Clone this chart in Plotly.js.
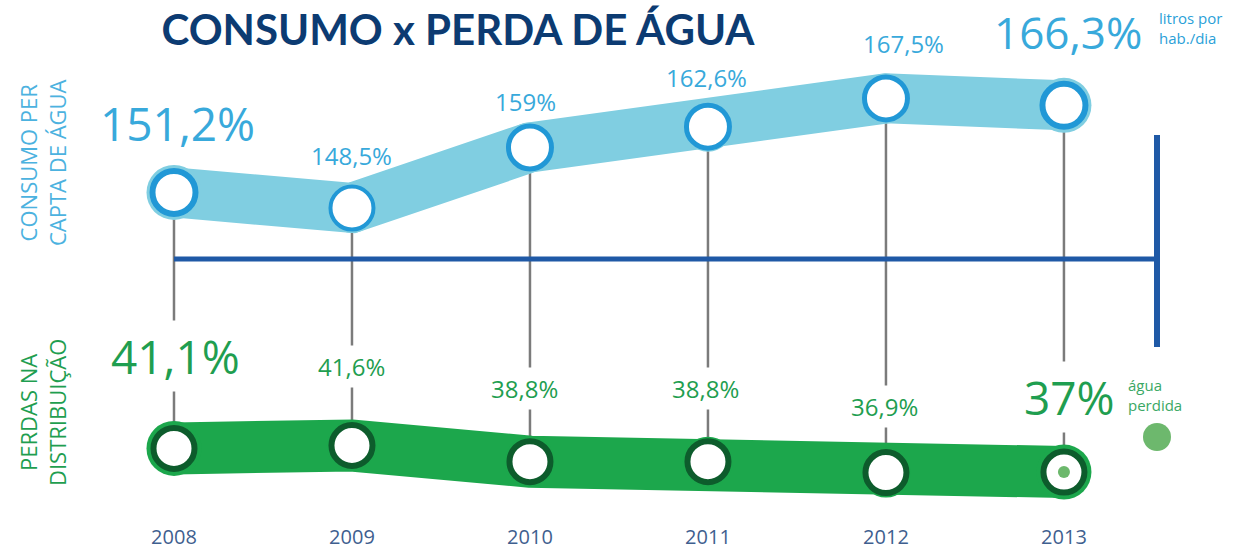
<!DOCTYPE html>
<html>
<head>
<meta charset="utf-8">
<script src="https://cdn.plot.ly/plotly-3.0.1.min.js"></script>
<style>html,body{margin:0;padding:0;background:#fff;}#chart{width:1235px;height:549px;}</style>
</head>
<body>
<div id="chart"></div>
<script>
// ---- data ----
const years = [2008, 2009, 2010, 2011, 2012, 2013];
const consumo = [151.2, 148.5, 159.0, 162.6, 167.5, 166.3];
const perdas = [41.1, 41.6, 38.8, 38.8, 36.9, 37.0];
const consumoLabels = ['151,2%', '148,5%', '159%', '162,6%', '167,5%', '166,3%'];
const perdasLabels = ['41,1%', '41,6%', '38,8%', '38,8%', '36,9%', '37%'];
const yearLabels = ['2008', '2009', '2010', '2011', '2012', '2013'];
const titleText = 'CONSUMO x PERDA DE ÁGUA';
const consumoName = 'CONSUMO PER<br>CAPTA DE ÁGUA';
const perdasName = 'PERDAS NA<br>DISTRIBUIÇÃO';
const consumoUnit = 'litros por<br>hab./dia';
const perdasUnit = 'água<br>perdida';

// ---- layout / style constants ----
const W = 1235, HT = 549, B = 26;
const H = HT - B;              // plot area height
const K = 5.77;                // px per unit, both value axes
const UP_TOP = 184.55;         // upper axis value at top of plot area
const LO_TOP = 118.81;         // lower axis value at top of plot area
const X0 = 2007.0225, X1 = 2013.961;
const yUp = px => UP_TOP - px / K;
const yLo = px => LO_TOP - px / K;
const xPx = px => X0 + (X1 - X0) * px / W;
const py = px => 1 - px / H;   // pixel row -> paper fraction

const consYShift = [69, 53, 46, 49, 55, 73];
const consXShift = [4, 0, -4, -1, 18, 4];
const consFont = [46, 24, 24, 24, 24, 44];
const perdYShift = [92, 79, 73, 73, 66, 75];
const perdXShift = [2, 0, -5, -2, -1, 6];
const perdFont = [46, 24, 24, 24, 24, 46];
const capSize = [55, 50, 50, 50, 50, 55];

const FONT = 'Open Sans, Noto Sans, sans-serif';
const C_BLUE_TXT = '#38a9db', C_BAND_UP = '#80cee1', C_RING_UP = '#2198d6';
const C_GREEN_TXT = '#1f9e50', C_BAND_LO = '#1ca74c', C_RING_LO = '#0d5c2c';
const C_NAVY = '#1f59a6', C_GRAY = '#7b7b7b';

// gray connectors
const gx = [], gyU = [], gyL = [];
years.forEach((y, i) => { gx.push(y, y, null); gyU.push(consumo[i], yUp(259), null); gyL.push(perdas[i], yLo(259), null); });

const traces = [
  {x: gx, y: gyU, yaxis: 'y', mode: 'lines', line: {color: C_GRAY, width: 2.5}, hoverinfo: 'skip'},
  {x: gx, y: gyL, yaxis: 'y2', mode: 'lines', line: {color: C_GRAY, width: 2.5}, hoverinfo: 'skip'},
  {x: years, y: consumo, yaxis: 'y', mode: 'lines', line: {color: C_BAND_UP, width: 50}, hoverinfo: 'skip'},
  {x: years, y: consumo, yaxis: 'y', mode: 'markers', opacity: 1,
   marker: {color: C_BAND_UP, size: capSize, opacity: 1, line: {width: 0}}, hoverinfo: 'skip'},
  {x: years, y: perdas, yaxis: 'y2', mode: 'lines', line: {color: C_BAND_LO, width: 52}, hoverinfo: 'skip'},
  {x: years, y: perdas, yaxis: 'y2', mode: 'markers', opacity: 1,
   marker: {color: C_BAND_LO, size: capSize, opacity: 1, line: {width: 0}}, hoverinfo: 'skip'},
  {x: years, y: consumo, yaxis: 'y', mode: 'markers',
   marker: {color: '#ffffff', size: 43, opacity: 1, line: {color: C_RING_UP, width: [6, 4, 5, 5, 5, 6]}}, name: 'Consumo'},
  {x: years, y: perdas, yaxis: 'y2', mode: 'markers',
   marker: {color: '#ffffff', size: 41, opacity: 1, line: {color: C_RING_LO, width: 6}}, name: 'Perdas'},
  {x: [years[5]], y: [perdas[5]], yaxis: 'y2', mode: 'markers',
   marker: {color: '#6cb86c', size: 12, opacity: 1}, hoverinfo: 'skip'}
];

const ann = [];
years.forEach((y, i) => {
  ann.push({x: y, y: consumo[i], xref: 'x', yref: 'y', text: consumoLabels[i], showarrow: false,
    xanchor: 'center', yanchor: 'middle',
    yshift: consYShift[i], xshift: consXShift[i], font: {family: FONT, size: consFont[i], color: C_BLUE_TXT}});
  ann.push({x: y, y: perdas[i], xref: 'x', yref: 'y2', text: perdasLabels[i], showarrow: false,
    xanchor: 'center', yanchor: 'middle',
    yshift: perdYShift[i], xshift: perdXShift[i], bgcolor: '#ffffff', borderpad: 4,
    font: {family: FONT, size: perdFont[i], color: C_GREEN_TXT}});
});
ann.push({x: 42 / W, y: py(163), xref: 'paper', yref: 'paper', xanchor: 'center', yanchor: 'middle',
  text: consumoName, textangle: -90, showarrow: false,
  align: 'center', font: {family: FONT, size: 22, color: '#4cb2df'}});
ann.push({x: 42 / W, y: py(413), xref: 'paper', yref: 'paper', xanchor: 'center', yanchor: 'middle',
  text: perdasName, textangle: -90, showarrow: false,
  align: 'center', font: {family: FONT, size: 22, color: C_GREEN_TXT}});
ann.push({x: 1157 / W, y: py(28), xref: 'paper', yref: 'paper', xanchor: 'left', yanchor: 'middle',
  text: consumoUnit, showarrow: false,
  align: 'left', font: {family: FONT, size: 15, color: '#2a9fd8'}});
ann.push({x: 1126 / W, y: py(395), xref: 'paper', yref: 'paper', xanchor: 'left', yanchor: 'middle',
  text: perdasUnit, showarrow: false,
  align: 'left', font: {family: FONT, size: 15, color: '#3aa864'}});

const shapes = [
  {type: 'line', xref: 'x', yref: 'y', x0: years[0], x1: xPx(1157), y0: yUp(259), y1: yUp(259), line: {color: C_NAVY, width: 5}},
  {type: 'line', xref: 'x', yref: 'y', x0: xPx(1157), x1: xPx(1157), y0: yUp(135), y1: yUp(347), line: {color: C_NAVY, width: 6}},
  {type: 'circle', xref: 'paper', yref: 'paper', x0: (1157 - 14) / W, x1: (1157 + 14) / W,
   y0: py(437 + 14), y1: py(437 - 14), fillcolor: '#6db86d', line: {width: 0}}
];

const layout = {
  width: W, height: HT,
  margin: {l: 0, r: 0, t: 0, b: B},
  paper_bgcolor: '#ffffff', plot_bgcolor: '#ffffff',
  showlegend: false,
  title: {text: '<b>' + titleText + '</b>', x: 458 / W, xref: 'container', xanchor: 'center',
    y: 1 - 30 / HT, yref: 'container', yanchor: 'middle',
    font: {family: 'Lato, Open Sans, sans-serif', size: 42, color: '#0c3b72'}},
  xaxis: {range: [X0, X1], tickvals: years, ticktext: yearLabels, showgrid: false, zeroline: false,
    showline: false, ticks: '', tickfont: {family: FONT, size: 20, color: '#3f5f8f'}, fixedrange: true},
  yaxis: {range: [UP_TOP - H / K, UP_TOP], visible: false, fixedrange: true},
  yaxis2: {range: [LO_TOP - H / K, LO_TOP], overlaying: 'y', visible: false, fixedrange: true},
  annotations: ann,
  shapes: shapes
};

Plotly.newPlot('chart', traces, layout, {staticPlot: true});
</script>
</body>
</html>
